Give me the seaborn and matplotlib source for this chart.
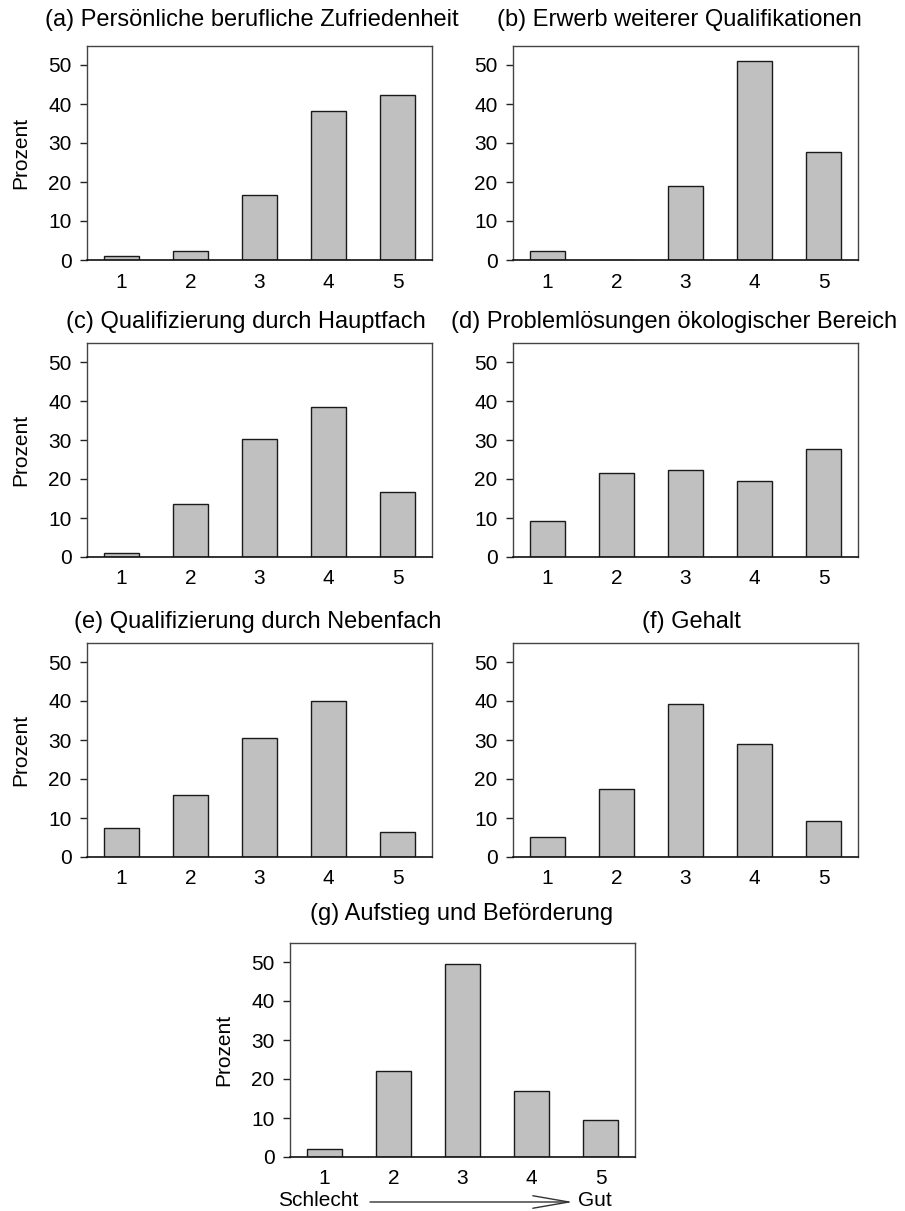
import matplotlib
matplotlib.use("Agg")
import matplotlib.pyplot as plt
import seaborn as sns
import pandas as pd

sns.set_style("ticks")
plt.rcParams['font.family'] = ['Liberation Sans', 'DejaVu Sans']
plt.rcParams['text.color'] = 'black'
plt.rcParams['xtick.color'] = 'black'
plt.rcParams['ytick.color'] = 'black'
plt.rcParams['axes.labelcolor'] = 'black'

categories = ["1", "2", "3", "4", "5"]
yticks = [0, 10, 20, 30, 40, 50]

titles = [
    "(a) Persönliche berufliche Zufriedenheit",
    "(b) Erwerb weiterer Qualifikationen",
    "(c) Qualifizierung durch Hauptfach",
    "(d) Problemlösungen ökologischer Bereich",
    "(e) Qualifizierung durch Nebenfach",
    "(f) Gehalt",
    "(g) Aufstieg und Beförderung",
]

vals_a = [1.0, 2.2, 16.6, 38.1, 42.3]
vals_b = [2.2, 0.0, 19.1, 51.1, 27.8]
vals_c = [1.0, 13.6, 30.3, 38.5, 16.7]
vals_d = [9.3, 21.5, 22.4, 19.5, 27.6]
vals_e = [7.4, 15.8, 30.5, 40.0, 6.3]
vals_f = [5.2, 17.5, 39.2, 28.9, 9.3]
vals_g = [2.1, 22.1, 49.6, 16.9, 9.6]

series = [vals_a, vals_b, vals_c, vals_d, vals_e, vals_f, vals_g]

W, H = 905, 1211
fig = plt.figure(figsize=(W / 100, H / 100), dpi=100)

# (left, bottom-from-top, title-center-x, title-center-y) in pixels
layout = [
    (87, 260, 252, 20),
    (513, 260, 679, 20),
    (87, 557, 246, 322),
    (513, 557, 674, 322),
    (87, 857, 258, 622),
    (513, 857, 691, 622),
    (290, 1157, 462, 914),
]
AW, AH = 345, 214.5
FS_TICK = 15
FS_TITLE = 17

for i, (vals, title, (lx, by, tx, ty)) in enumerate(zip(series, titles, layout)):
    ax = fig.add_axes([lx / W, (H - by) / H, AW / W, AH / H])
    df = pd.DataFrame({"cat": categories, "val": vals})
    sns.barplot(data=df, x="cat", y="val", color="#C0C0C0", edgecolor="#1a1a1a",
                linewidth=1.0, width=0.5, saturation=1, ax=ax)
    ax.set_xlim(-0.5, 4.5)
    ax.set_ylim(0, 55)
    ax.set_yticks(yticks)
    ax.set_yticklabels([str(t) for t in yticks])
    ax.tick_params(axis="x", length=0, pad=9, labelsize=FS_TICK)
    ax.tick_params(axis="y", length=5, width=1, pad=6, labelsize=FS_TICK, color="#222222")
    ax.set_xlabel("")
    if i in (0, 2, 4, 6):
        ax.set_ylabel("Prozent", fontsize=FS_TICK)
        ax.yaxis.set_label_coords(-0.165, 0.5)
    else:
        ax.set_ylabel("")
    for s in ("top", "right", "left"):
        ax.spines[s].set_color("#444444")
        ax.spines[s].set_linewidth(1.0)
    ax.spines["bottom"].set_color("#111111")
    ax.spines["bottom"].set_linewidth(1.2)
    fig.text(tx / W, 1 - ty / H, title, ha="center", va="center", fontsize=FS_TITLE)

    if i == 6:
        ax.annotate("", xy=((573 - lx) / AW, (by - 1202) / AH),
                    xytext=((370 - lx) / AW, (by - 1202) / AH),
                    xycoords="axes fraction", textcoords="axes fraction",
                    arrowprops=dict(arrowstyle="->,head_length=2.6,head_width=0.45",
                                    color="#333333", lw=1.0, shrinkA=0, shrinkB=0),
                    annotation_clip=False)
        ax.text((318 - lx) / AW, (by - 1201) / AH, "Schlecht", transform=ax.transAxes,
                ha="center", va="center", fontsize=FS_TICK)
        ax.text((578 - lx) / AW, (by - 1201) / AH, "Gut", transform=ax.transAxes,
                ha="left", va="center", fontsize=FS_TICK)

fig.savefig("out.png", dpi=100)
